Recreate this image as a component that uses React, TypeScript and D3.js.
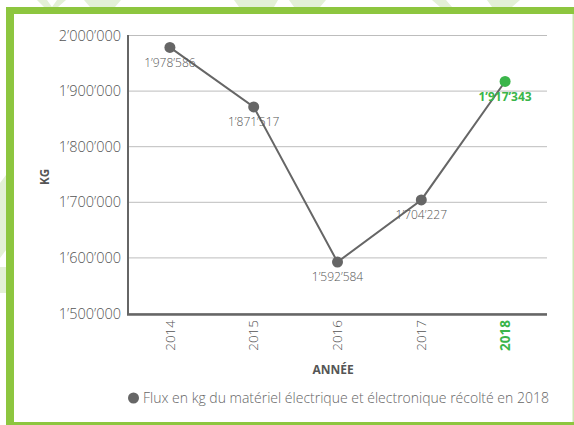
import React from "react";
import * as d3 from "d3";

const years = ["2014", "2015", "2016", "2017", "2018"];
const values = [1978586, 1871517, 1592584, 1704227, 1917343];
const yTicks = [1500000, 1600000, 1700000, 1800000, 1900000, 2000000];
const legendLabel = "Flux en kg du matériel électrique et électronique récolté en 2018";
const yAxisLabel = "KG";
const xAxisLabel = "ANNÉE";

const W = 574;
const H = 425;
const GREEN = "#8dc63f";
const HL = "#3ab54a";
const GRAY = "#666666";
const FONT = "'Open Sans', 'Noto Sans', sans-serif";

const fmt = (v: number) => {
  const s = String(Math.round(v));
  return s.replace(/\B(?=(\d{3})+(?!\d))/g, "\u2019");
};

export default function App() {
  const x = d3.scaleBand<string>().domain(years).range([128, 547]);
  const y = d3.scaleLinear().domain([1500000, 2000000]).range([313.5, 35.5]);
  const line = d3
    .line<number>()
    .x((_, i) => (x(years[i]) as number) + x.bandwidth() / 2)
    .y((d) => y(d));
  const last = years.length - 1;

  const topLeaves = [
    "M37,0 L47,0 L52,7 L57,0 L66,0 L58,7 L44,7 Z",
    "M84,0 L121,0 L115,7 L90,7 Z",
    "M234,0 L278,0 L274,7 L239,7 Z",
    "M289,0 L326,0 L320,7 L294,7 Z",
    "M432,0 L446,0 L452,7 L440,7 Z",
    "M487,0 L520,0 L512,7 L492,7 Z",
  ];
  const leftLeaves = ["M0,183 L6,175 L6,250 L0,258 Z", "M0,267 L6,267 L6,293 L0,293 Z"];

  return (
    <svg
      width={W}
      height={H}
      style={{ position: "absolute", left: 0, top: 0, background: "#fff" }}
      fontFamily={FONT}
    >
      {topLeaves.map((d, i) => (
        <path key={"t" + i} d={d} fill="#e3f0d6" />
      ))}
      {leftLeaves.map((d, i) => (
        <path key={"l" + i} d={d} fill="#e3f0d6" />
      ))}
      {/* frame */}
      <rect x={6} y={7} width={W - 6} height={7} fill={GREEN} />
      <rect x={6} y={7} width={8} height={H - 7} fill={GREEN} />
      <rect x={6} y={422} width={W - 6} height={3} fill={GREEN} />
      <rect x={572.5} y={14} width={1.5} height={408} fill="#cfe6b3" />

      {/* gridlines */}
      {yTicks.map((t) => (
        <line key={t} x1={128} x2={547} y1={y(t)} y2={y(t)} stroke="#bdbdbd" strokeWidth={1} />
      ))}
      {/* y tick labels */}
      {yTicks.map((t) => (
        <text
          key={"yl" + t}
          x={121}
          y={y(t)}
          dy="0.35em"
          textAnchor="end"
          fontSize={14.5}
          fontWeight={300}
          fill="#555"
        >
          {fmt(t)}
        </text>
      ))}
      {/* axes */}
      <line x1={128} x2={128} y1={35} y2={315} stroke={GRAY} strokeWidth={2} />
      <line x1={127} x2={547} y1={314.5} y2={314.5} stroke={GRAY} strokeWidth={2.5} />

      {/* x tick labels */}
      {years.map((yr, i) => {
        const cx = (x(yr) as number) + x.bandwidth() / 2;
        return (
          <text
            key={"xl" + yr}
            transform={`translate(${cx},${320}) rotate(-90)`}
            dy="0.35em"
            textAnchor="end"
            fontSize={13.5}
            fontWeight={i === last ? 700 : 300}
            fill={i === last ? HL : "#555"}
          >
            {yr}
          </text>
        );
      })}

      {/* line */}
      <path d={line(values) as string} fill="none" stroke={GRAY} strokeWidth={2} />
      {values.map((v, i) => {
        const cx = (x(years[i]) as number) + x.bandwidth() / 2;
        return (
          <g key={"p" + i}>
            <circle cx={cx} cy={y(v)} r={5.5} fill={i === last ? HL : GRAY} />
            <text
              x={cx}
              y={y(v) + 15}
              dy="0.35em"
              textAnchor="middle"
              fontSize={12}
              fontWeight={i === last ? 700 : 300}
              fill={i === last ? HL : "#555"}
            >
              {fmt(v)}
            </text>
          </g>
        );
      })}

      {/* axis titles */}
      <text
        transform="translate(45,177) rotate(-90)"
        dy="0.35em"
        textAnchor="middle"
        fontSize={11.5}
        fontWeight={700}
        fill="#555"
      >
        {yAxisLabel}
      </text>
      <text x={333} y={370} dy="0.35em" textAnchor="middle" fontSize={12} fontWeight={700} fill="#555">
        {xAxisLabel}
      </text>

      {/* legend */}
      <circle cx={133.5} cy={398} r={5.5} fill={GRAY} />
      <text x={143} y={398} dy="0.35em" fontSize={14} fontWeight={300} fill="#666">
        {legendLabel}
      </text>
    </svg>
  );
}
